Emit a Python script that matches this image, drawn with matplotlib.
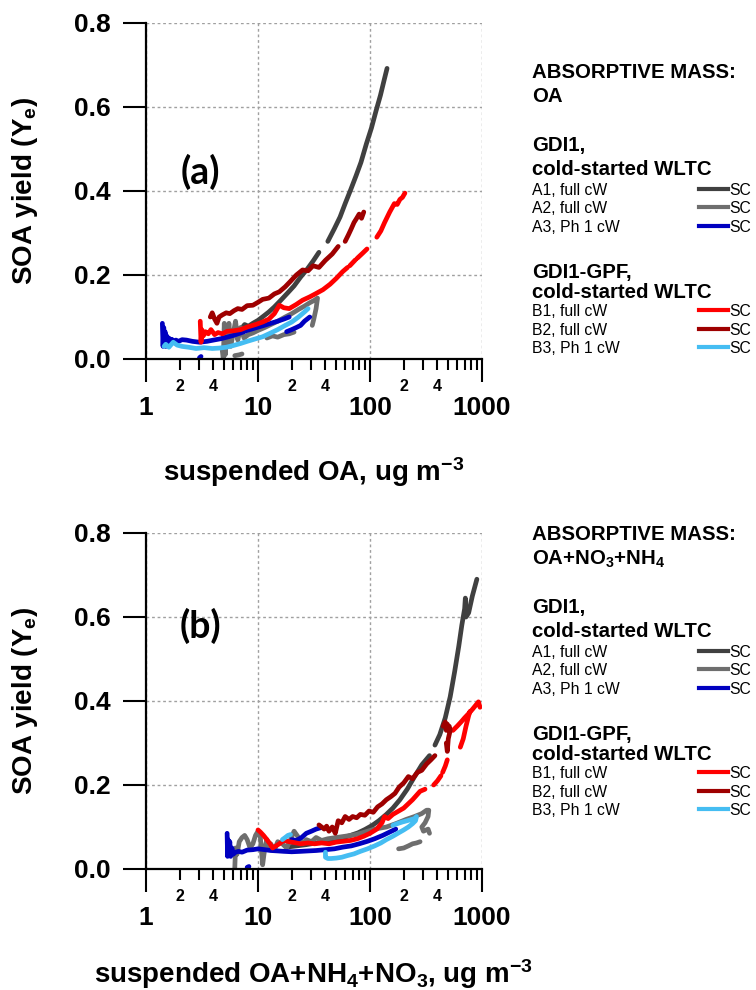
import numpy as np
import matplotlib
matplotlib.use("Agg")
import matplotlib.pyplot as plt
from matplotlib.ticker import FixedLocator, LogLocator, FuncFormatter
from matplotlib.lines import Line2D

nan = np.nan

# ---- panel (a): absorptive mass = OA ----
a_A1_x = [7.0, 7.6, 8.2, 9.0, 10.0, 11.2, 12.5, 14.0, 16.0, 18.5, 21.0, 24.0, 27.5, 31.0, 35.0, nan,
          42.0, 48.0, 54.0, 60.0, 67.0, 75.0, 83.0, 93.0, 103.0, 113.0, 124.0, 134.0, 142.0]
a_A1_y = [0.07, 0.082, 0.078, 0.085, 0.092, 0.102, 0.112, 0.124, 0.14, 0.158, 0.174, 0.195, 0.214, 0.233, 0.254, nan,
          0.28, 0.31, 0.338, 0.37, 0.402, 0.436, 0.468, 0.513, 0.55, 0.59, 0.628, 0.665, 0.692]
a_A2_x = [4.8, 4.9, 5.0, 5.1, 5.2, 5.3, 5.5, 5.7, 6.0, 6.3, 6.6, 7.0, 7.5, 8.2, 9.0, 10.0, 11.5, 13.0, 15.0,
          17.5, 20.0, 23.0, 26.0, 29.0, 32.0, 34.0, 33.0, 31.5, 30.5, nan,
          12.0, 13.5, 15.0, 17.0, 19.0, 21.0, nan, 6.2, 6.8, 7.2]
a_A2_y = [0.02, 0.0, 0.085, 0.01, 0.07, 0.035, 0.085, 0.03, 0.06, 0.09, 0.045, 0.075, 0.05, 0.058, 0.062, 0.068,
          0.075, 0.082, 0.09, 0.1, 0.108, 0.118, 0.126, 0.134, 0.14, 0.145, 0.12, 0.095, 0.08, nan,
          0.05, 0.055, 0.052, 0.058, 0.06, 0.064, nan, 0.008, 0.01, 0.012]
a_A3_x = [1.40, 1.42, 1.44, 1.46, 1.48, 1.50, 1.53, 1.56, 1.60, 1.65, 1.70, 1.78, 1.85, 1.95, 2.1, 2.3, 2.6,
          3.0, 3.5, 4.0, 4.6, 5.3, 6.0, 7.0, 8.0, 9.5, 11.0, 13.0, 15.0, 17.0, 19.0, nan,
          18.0, 20.0, 22.0, 24.0, 26.0, 29.0, nan, 3.0, 3.1]
a_A3_y = [0.085, 0.03, 0.075, 0.04, 0.065, 0.03, 0.055, 0.035, 0.05, 0.038, 0.047, 0.04, 0.045, 0.042, 0.046,
          0.045, 0.042, 0.04, 0.042, 0.045, 0.048, 0.052, 0.056, 0.062, 0.068, 0.074, 0.079, 0.085, 0.09, 0.095,
          0.1, nan, 0.065, 0.07, 0.075, 0.08, 0.09, 0.1, nan, 0.003, 0.006]
a_B1_x = [3.05, 3.1, 3.15, 3.25, 3.4, 3.6, 3.8, 4.1, 4.4, 4.8, 5.3, 6.0, 7.0, 8.0, 9.5, 11.0, 12.5, 14.0, 15.5,
          17.0, 19.0, 22.0, 25.0, 29.0, 33.0, 38.0, 44.0, 50.0, 57.0, 63.0, nan, 66.0, 74.0, nan, 77.0, 86.0, 94.0,
          nan, 115.0, 125.0, 135.0, 150.0, 165.0, 175.0, 185.0, 195.0, 205.0]
a_B1_y = [0.09, 0.04, 0.07, 0.055, 0.065, 0.06, 0.07, 0.058, 0.063, 0.06, 0.066, 0.067, 0.07, 0.076, 0.082,
          0.088, 0.095, 0.108, 0.128, 0.122, 0.12, 0.13, 0.14, 0.148, 0.156, 0.165, 0.178, 0.192, 0.208, 0.218, nan,
          0.222, 0.236, nan, 0.24, 0.252, 0.262, nan, 0.29, 0.305, 0.325, 0.35, 0.37, 0.368, 0.38, 0.385, 0.395]
a_B2_x = [3.75, 3.9, 4.1, 4.3, 4.5, 4.8, 5.2, 5.6, 6.1, 6.6, 7.2, 8.0, 9.0, 10.0, 11.0, 12.5, 14.0, 15.5, 17.5,
          19.5, 22.0, 25.0, 28.0, 31.0, 35.0, 40.0, 46.0, 52.0, nan, 60.0, 64.0, 68.0, 72.0, 76.0, 80.0, 84.0, 88.0]
a_B2_y = [0.1, 0.11, 0.095, 0.085, 0.1, 0.105, 0.11, 0.108, 0.115, 0.12, 0.118, 0.127, 0.128, 0.135, 0.142,
          0.145, 0.155, 0.16, 0.172, 0.185, 0.2, 0.212, 0.21, 0.222, 0.218, 0.235, 0.25, 0.268, nan,
          0.28, 0.295, 0.31, 0.325, 0.335, 0.345, 0.335, 0.35]
a_B3_x = [1.45, 1.5, 1.6, 1.75, 1.9, 2.1, 2.4, 2.8, 3.3, 3.9, 4.5, 5.2, 6.0, 7.0, 8.0, 9.5, 11.0, 13.0, 15.0,
          17.5, 20.0, 23.0, 26.0, 28.0]
a_B3_y = [0.03, 0.035, 0.028, 0.04, 0.033, 0.03, 0.028, 0.025, 0.027, 0.025, 0.026, 0.028, 0.032, 0.037, 0.042,
          0.048, 0.053, 0.062, 0.07, 0.08, 0.088, 0.1, 0.112, 0.12]

# ---- panel (b): absorptive mass = OA+NO3+NH4 ----
b_A1_x = [18, 22, 27, 33, 40, 48, 57, 67, 78, 90, 105, 120, 140, 160, 185, 215, 250, 290, 340, nan,
          380, 420, 470, 520, 570, 620, 660, 700, 710, 720, 760, 820, 900]
b_A1_y = [0.052, 0.055, 0.058, 0.062, 0.066, 0.07, 0.074, 0.08, 0.086, 0.094, 0.104, 0.115, 0.13, 0.145,
          0.165, 0.19, 0.22, 0.248, 0.27, nan, 0.295, 0.32, 0.36, 0.41, 0.47, 0.53, 0.58, 0.62, 0.645, 0.6,
          0.61, 0.65, 0.69]
b_A2_x = [6.2, 6.3, 6.5, 6.8, 7.2, 7.6, 8.0, 8.5, 9.0, 9.5, 10.0, 10.5, 11.0, 11.5, 12.0, 12.5, 13.0, 14.0,
          15.0, 16.5, 18.0, 19.5, 21.0, 23.0, 25.0, 27.0, 30.0, 33.0, 37.0, 42.0, 50.0, 60.0, 75.0, 90.0, 110.0,
          140.0, 170.0, 210.0, 250.0, 290.0, 320.0, 335.0, 330.0, 310.0, 290.0, 300.0, 330.0, 340.0, nan,
          180, 200, 220, 240, 260, 280]
b_A2_y = [0.0, 0.05, 0.035, 0.065, 0.075, 0.08, 0.07, 0.05, 0.06, 0.08, 0.09, 0.075, 0.01, 0.05, 0.07, 0.055,
          0.06, 0.045, 0.065, 0.06, 0.05, 0.07, 0.09, 0.075, 0.06, 0.07, 0.065, 0.075, 0.068, 0.072, 0.075,
          0.078, 0.082, 0.088, 0.095, 0.1, 0.108, 0.118, 0.125, 0.132, 0.14, 0.14, 0.125, 0.11, 0.1, 0.09,
          0.095, 0.085, nan, 0.048, 0.05, 0.055, 0.06, 0.062, 0.065]
b_A3_x = [5.3, 5.35, 5.4, 5.5, 5.6, 5.7, 5.85, 6.0, 6.3, 6.7, 7.2, 8.0, 9.0, 10.0, 11.5, 13.0, 15.0, 17.0,
          20.0, 24.0, 28.0, 33.0, 40.0, 48.0, 57.0, 68.0, 80.0, 95.0, 110.0, 130.0, 150.0, 170.0, nan,
          20.0, 22.0, 24.5, 27.0, 30.0, 33.0, 36.0, nan, 8.0, 8.3]
b_A3_y = [0.085, 0.03, 0.07, 0.04, 0.065, 0.03, 0.05, 0.035, 0.04, 0.042, 0.04, 0.045, 0.046, 0.048, 0.046,
          0.044, 0.043, 0.042, 0.041, 0.042, 0.043, 0.044, 0.046, 0.048, 0.052, 0.055, 0.06, 0.066, 0.072,
          0.08, 0.088, 0.095, nan, 0.07, 0.068, 0.075, 0.085, 0.09, 0.095, 0.098, nan, 0.004, 0.006]
b_B1_x = [10.0, 10.5, 11.2, 12.0, 12.8, 13.5, 14.5, 15.5, 17.0, 19.0, 21.0, 24.0, 28.0, 32.0, 37.0, 43.0,
          50.0, 58.0, 67.0, 77.0, 88.0, 100.0, 115.0, 128.0, 135.0, 145.0, 160.0, 200.0, 240.0, 280.0, 310.0,
          nan, 370.0, 400.0, 430.0, nan, 445.0, 470.0, 490.0, nan,
          550.0, 600.0, 650.0, 700.0, 760.0, 820.0, 880.0, 930.0, 960.0, nan,
          640.0, 680.0, 720.0, 760.0, 780.0]
b_B1_y = [0.093, 0.088, 0.08, 0.07, 0.06, 0.05, 0.055, 0.06, 0.068, 0.065, 0.063, 0.06, 0.062, 0.06, 0.062,
          0.06, 0.064, 0.066, 0.068, 0.072, 0.078, 0.085, 0.095, 0.11, 0.125, 0.12, 0.13, 0.145, 0.165, 0.185,
          0.19, nan, 0.2, 0.21, 0.222, nan, 0.23, 0.245, 0.26, nan,
          0.33, 0.34, 0.35, 0.36, 0.37, 0.38, 0.39, 0.398, 0.385, nan,
          0.29, 0.31, 0.34, 0.365, 0.375]
b_B2_x = [35, 37, 39, 41, 43, 46, 49, 52, 56, 60, 65, 70, 76, 82, 90, 98, 107, 117, 128, 140, 153, 167, 182,
          200, 220, 240, 265, 290, 320, 350, 380, nan, 450, 470, 480, 490, 500, 510, 520, 500, 490, 480]
b_B2_y = [0.105, 0.1, 0.095, 0.102, 0.09, 0.1, 0.085, 0.115, 0.11, 0.125, 0.118, 0.125, 0.122, 0.13, 0.128,
          0.138, 0.135, 0.148, 0.155, 0.165, 0.172, 0.18, 0.195, 0.205, 0.22, 0.215, 0.23, 0.235, 0.25, 0.26,
          0.27, nan, 0.34, 0.35, 0.33, 0.345, 0.335, 0.34, 0.33, 0.31, 0.28, 0.3]
b_B3_x = [16.5, 17.5, 18.5, 19.5, nan, 40, 40, 42, 45, 50, 56, 63, 72, 82, 95, 110, 125, 140, 160, 180, 200,
          220, 240, 255, 260, 250, 235, 215, 195, 175, 160]
b_B3_y = [0.07, 0.075, 0.08, 0.082, nan, 0.04, 0.028, 0.025, 0.025, 0.026, 0.028, 0.032, 0.036, 0.042, 0.048,
          0.055, 0.062, 0.07, 0.078, 0.086, 0.093, 0.1, 0.108, 0.115, 0.125, 0.12, 0.118, 0.115, 0.112, 0.108,
          0.104]

series_names = ["A1, full cW", "A2, full cW", "A3, Ph 1 cW", "B1, full cW", "B2, full cW", "B3, Ph 1 cW"]
series_colors = ["#404040", "#6e6e6e", "#0000c0", "#ff0000", "#9e0000", "#45bdf2"]
yticks = [0.0, 0.2, 0.4, 0.6, 0.8]
xticks = [1, 10, 100, 1000]

panel_a = [(a_A1_x, a_A1_y), (a_A2_x, a_A2_y), (a_A3_x, a_A3_y),
           (a_B1_x, a_B1_y), (a_B2_x, a_B2_y), (a_B3_x, a_B3_y)]
panel_b = [(b_A1_x, b_A1_y), (b_A2_x, b_A2_y), (b_A3_x, b_A3_y),
           (b_B1_x, b_B1_y), (b_B2_x, b_B2_y), (b_B3_x, b_B3_y)]

plt.rcParams['font.family'] = ['Liberation Sans', 'DejaVu Sans']
plt.rcParams['font.weight'] = 'bold'
plt.rcParams['mathtext.fontset'] = 'custom'
plt.rcParams['mathtext.rm'] = 'Liberation Sans'
plt.rcParams['mathtext.bf'] = 'Liberation Sans:bold'
plt.rcParams['mathtext.it'] = 'Liberation Sans:italic'

W, H = 756, 990
fig = plt.figure(figsize=(W / 100, H / 100), dpi=100)


def minor_fmt(v, pos):
    m = v / 10 ** np.floor(np.log10(v) + 1e-9)
    m = int(round(m))
    return str(m) if m in (2, 4) else ""


def style_axes(ax):
    ax.set_xscale('log')
    ax.set_xlim(1, 1000)
    ax.set_ylim(0, 0.8)
    ax.xaxis.set_major_locator(FixedLocator(xticks))
    ax.xaxis.set_major_formatter(FuncFormatter(lambda v, p: f"{v:g}"))
    ax.xaxis.set_minor_locator(LogLocator(base=10, subs=np.arange(2, 10), numticks=20))
    ax.xaxis.set_minor_formatter(FuncFormatter(minor_fmt))
    ax.yaxis.set_major_locator(FixedLocator(yticks))
    ax.yaxis.set_major_formatter(FuncFormatter(lambda v, p: f"{v:.1f}"))
    ax.tick_params(axis='x', which='major', direction='out', length=16.5, width=1.5,
                   labelsize=19, pad=10)
    ax.tick_params(axis='x', which='minor', direction='out', length=8, width=1.5,
                   labelsize=11.5, pad=6.5)
    ax.tick_params(axis='y', which='major', direction='out', length=16.5, width=1.5,
                   labelsize=19, pad=9)
    for s in ['top', 'right']:
        ax.spines[s].set_visible(False)
    for s in ['left', 'bottom']:
        ax.spines[s].set_linewidth(1.6)
    ax.grid(True, which='major', color='#a0a0a0', linestyle=(0, (2, 2)), linewidth=1)
    ax.set_axisbelow(True)


def draw_panel(ax, data):
    for (x, y), c in zip(data, series_colors):
        ax.plot(x, y, color=c, lw=3.4, solid_capstyle='round', solid_joinstyle='round')


def legend_block(top_px, header):
    x0 = 532 / W
    offs = [0, 24, 73, 97, 118, 136, 155, 200, 220, 239, 258, 276]
    big = 14.7
    small = 11.3

    def fy(px, fs):
        return 1 - (px + 0.358 * fs * 100 / 72) / H

    lines = [header[0], header[1], "GDI1,", "cold-started WLTC"]
    for i, t in enumerate(lines):
        fig.text(x0, fy(top_px + offs[i], big), t, fontsize=big, fontweight='bold', va='baseline')
    fig.text(x0, fy(top_px + offs[7], big), "GDI1-GPF,", fontsize=big, fontweight='bold', va='baseline')
    fig.text(x0, fy(top_px + offs[8], big), "cold-started WLTC", fontsize=big, fontweight='bold',
             va='baseline')
    rows = [4, 5, 6, 9, 10, 11]
    for name, c, i in zip(series_names, series_colors, rows):
        yc = top_px + offs[i]
        fig.text(x0, fy(yc, small), name, fontsize=small, fontweight='normal', va='baseline')
        fig.add_artist(Line2D([699 / W, 728 / W], [1 - yc / H, 1 - yc / H], color=c, lw=3,
                              transform=fig.transFigure))
        fig.text(729 / W, fy(yc, small), "SC", fontsize=small, fontweight='normal', va='baseline')


ax_a = fig.add_axes([146 / W, 1 - 359 / H, 336 / W, 336 / H])
ax_b = fig.add_axes([146 / W, 1 - 869 / H, 336 / W, 336 / H])
for ax, data in [(ax_a, panel_a), (ax_b, panel_b)]:
    style_axes(ax)
    draw_panel(ax, data)

# panel letters
fig.text(200 / W, 1 - 172 / H, "(a)", fontsize=27, fontweight='bold', family=['Lato', 'DejaVu Sans'],
         ha='center', va='center')
fig.text(200 / W, 1 - 626 / H, "(b)", fontsize=27, fontweight='bold', family=['Lato', 'DejaVu Sans'],
         ha='center', va='center')

# y labels
ylab = r"SOA yield (Y$_\mathbf{e}$)"
fig.text(25 / W, 1 - 191 / H, ylab, fontsize=20, fontweight='bold', rotation=90, ha='center', va='center')
fig.text(25 / W, 1 - 701 / H, ylab, fontsize=20, fontweight='bold', rotation=90, ha='center', va='center')

# x labels
fig.text(314 / W, 1 - 481 / H, r"suspended OA, ug m$^{\mathbf{-3}}$", fontsize=20, fontweight='bold',
         ha='center', va='baseline')
fig.text(314 / W, 1 - 983 / H, r"suspended OA+NH$_\mathbf{4}$+NO$_\mathbf{3}$, ug m$^{\mathbf{-3}}$",
         fontsize=20, fontweight='bold', ha='center', va='baseline')

legend_block(71, ["ABSORPTIVE MASS:", "OA"])
legend_block(533, ["ABSORPTIVE MASS:", r"OA+NO$_\mathbf{3}$+NH$_\mathbf{4}$"])

fig.savefig("out.png", dpi=100)
